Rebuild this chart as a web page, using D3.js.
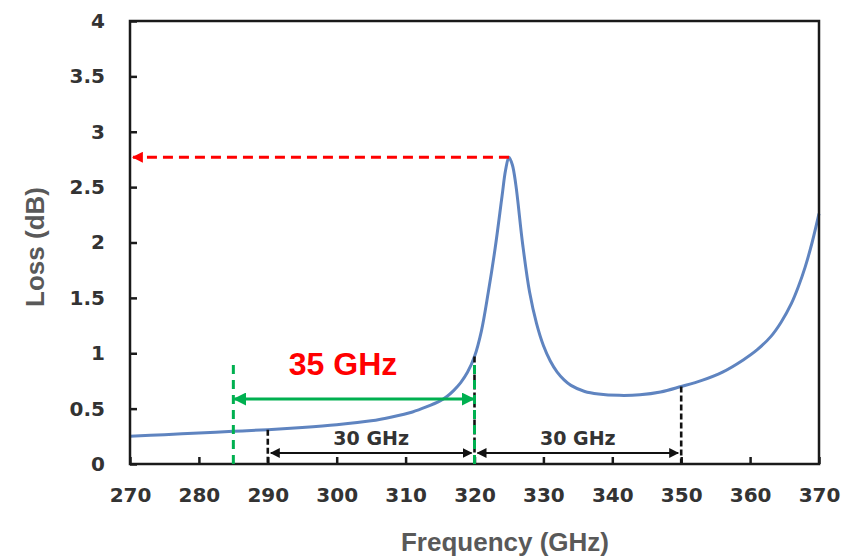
<!DOCTYPE html>
<html><head><meta charset="utf-8">
<script src="https://cdn.jsdelivr.net/npm/d3@7"></script>
<style>body{margin:0;background:#fff}svg{display:block}</style>
</head><body>
<svg id="c" width="859" height="560"></svg>
<script>
const freq = [270,275,280,285,290,295,300,305,308,311,313,315,316,317,318,319,320,321,322,323,324,324.5,325,325.5,326,327,328,329,330,331,332,333,334,336,338,341,344,347,350,353,356,359,361,363,364.5,366,367,368,369,370];
const loss = [0.25,0.265,0.28,0.295,0.31,0.33,0.355,0.39,0.425,0.47,0.515,0.57,0.61,0.665,0.735,0.83,0.97,1.2,1.55,1.95,2.42,2.65,2.77,2.70,2.52,1.98,1.55,1.27,1.07,0.93,0.83,0.76,0.71,0.655,0.632,0.62,0.625,0.65,0.70,0.755,0.83,0.94,1.03,1.15,1.28,1.45,1.6,1.78,2.0,2.26];
const xTicks = [270,280,290,300,310,320,330,340,350,360,370];
const yTicks = [0,0.5,1,1.5,2,2.5,3,3.5,4];
const peakFreq = 325, peakLoss = 2.77;
const bandStart = 285, bandEnd = 320, bandLabel = "35 GHz";
const spans = [[290,320,"30 GHz"],[320,350,"30 GHz"]];

const svg = d3.select("#c");
const x = d3.scaleLinear().domain([270,370]).range([130,819]);
const y = d3.scaleLinear().domain([0,4]).range([464,21]);
const lossAt = f => { const i = d3.bisectLeft(freq, f); if (freq[i]===f) return loss[i]; const t=(f-freq[i-1])/(freq[i]-freq[i-1]); return loss[i-1]+t*(loss[i]-loss[i-1]); };

const defs = svg.append("defs");
function marker(id, color, size){
  defs.append("marker").attr("id",id).attr("viewBox","0 0 10 10").attr("refX",9).attr("refY",5)
   .attr("markerWidth",size).attr("markerHeight",size).attr("orient","auto-start-reverse").attr("markerUnits","userSpaceOnUse")
   .append("path").attr("d","M0,0 L10,5 L0,10 z").attr("fill",color);
}
marker("ar","#ff0000",11); marker("ag","#00b050",13); marker("ak","#111",10);

// curve
svg.append("path").datum(freq.map((f,i)=>[f,loss[i]]))
  .attr("d", d3.line().x(d=>x(d[0])).y(d=>y(d[1])).curve(d3.curveCatmullRom.alpha(0.5)))
  .attr("fill","none").attr("stroke","#5f84c0").attr("stroke-width",3);

// frame
svg.append("rect").attr("x",130).attr("y",21).attr("width",689).attr("height",443)
  .attr("fill","none").attr("stroke","#1a1a1a").attr("stroke-width",2.5);

// axes ticks inward
const gx = svg.append("g").attr("transform","translate(0,464)")
  .call(d3.axisBottom(x).tickValues(xTicks).tickSizeInner(-7).tickSizeOuter(0).tickPadding(20));
const gy = svg.append("g").attr("transform","translate(130,0)")
  .call(d3.axisLeft(y).tickValues(yTicks).tickSizeInner(-7).tickSizeOuter(0).tickPadding(25).tickFormat(d=>String(d)));
[gx,gy].forEach(g=>{
  g.select(".domain").remove();
  g.selectAll("line").attr("stroke","#1a1a1a").attr("stroke-width",2.5);
  g.selectAll("text").attr("font-family","DejaVu Sans").attr("font-weight","bold").attr("font-size",20).attr("fill","#333");
});
gx.selectAll("text").attr("dy","0.71em").attr("y",24);
gy.selectAll("text").attr("x",-25);

// red peak arrow
svg.append("line").attr("x1",x(peakFreq)).attr("x2",x(270)+3).attr("y1",y(peakLoss)).attr("y2",y(peakLoss))
  .attr("stroke","#ff0000").attr("stroke-width",3).attr("stroke-dasharray","10,6").attr("marker-end","url(#ar)");

// black dashed verticals
[290,320,350].forEach(f=>{
  svg.append("line").attr("x1",x(f)).attr("x2",x(f)).attr("y1",y(lossAt(f))).attr("y2",463)
   .attr("stroke","#111").attr("stroke-width",2.6).attr("stroke-dasharray","6,3");
});
// black spans
spans.forEach(([a,b,t])=>{
  svg.append("line").attr("x1",x(a)+3).attr("x2",x(b)-3).attr("y1",453).attr("y2",453)
   .attr("stroke","#111").attr("stroke-width",2).attr("marker-start","url(#ak)").attr("marker-end","url(#ak)");
  svg.append("text").attr("x",x((a+b)/2)).attr("y",445).attr("text-anchor","middle")
   .attr("font-family","DejaVu Sans").attr("font-weight","bold").attr("font-size",19).attr("fill","#333").text(t);
});

// green band
[bandStart,bandEnd].forEach(f=>{
  svg.append("line").attr("x1",x(f)).attr("x2",x(f)).attr("y1",365).attr("y2",464)
   .attr("stroke","#00b050").attr("stroke-width",3).attr("stroke-dasharray","9,6");
});
svg.append("line").attr("x1",x(bandStart)+1).attr("x2",x(bandEnd)-1).attr("y1",399).attr("y2",399)
  .attr("stroke","#00b050").attr("stroke-width",3).attr("marker-start","url(#ag)").attr("marker-end","url(#ag)");
svg.append("text").attr("x",343).attr("y",375).attr("text-anchor","middle")
  .attr("font-family","Liberation Sans").attr("font-weight","bold").attr("font-size",32).attr("fill","#ff0000").text(bandLabel);

// axis titles
svg.append("text").attr("x",505).attr("y",551).attr("text-anchor","middle")
  .attr("font-family","Liberation Sans").attr("font-weight","bold").attr("font-size",26).attr("fill","#595959").text("Frequency (GHz)");
svg.append("text").attr("transform","translate(44,247) rotate(-90)").attr("text-anchor","middle")
  .attr("font-family","Liberation Sans").attr("font-weight","bold").attr("font-size",26).attr("fill","#595959").text("Loss (dB)");
</script>
</body></html>
